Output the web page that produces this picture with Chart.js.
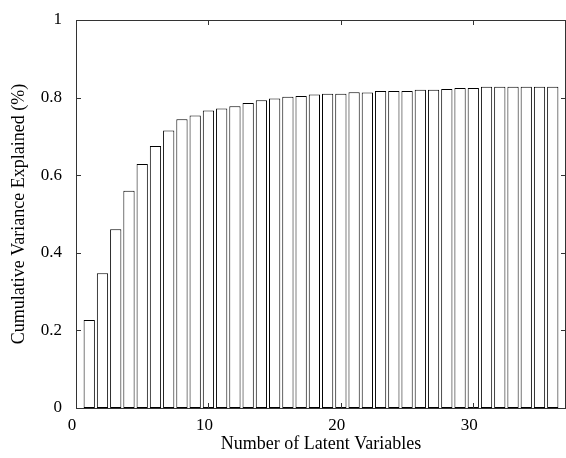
<!DOCTYPE html>
<html>
<head>
<meta charset="utf-8">
<script src="https://cdn.jsdelivr.net/npm/chart.js@4/dist/chart.umd.min.js"></script>
<style>
  html, body { margin: 0; padding: 0; background: #fff; }
  #wrap { width: 566px; height: 458px; }
</style>
</head>
<body>
<div id="wrap"><canvas id="chart"></canvas></div>
<script>
const latentVars = [1, 2, 3, 4, 5, 6, 7, 8, 9, 10, 11, 12, 13, 14, 15, 16, 17, 18,
  19, 20, 21, 22, 23, 24, 25, 26, 27, 28, 29, 30, 31, 32, 33, 34, 35, 36];
const varianceExplained = [0.227, 0.347, 0.461, 0.560, 0.629, 0.675, 0.715, 0.744,
  0.754, 0.767, 0.772, 0.778, 0.786, 0.793, 0.798, 0.802, 0.804, 0.808, 0.810,
  0.810, 0.814, 0.813, 0.817, 0.817, 0.817, 0.820, 0.820, 0.822, 0.825, 0.825,
  0.828, 0.828, 0.828, 0.828, 0.828, 0.828];
const xTicks = [0, 10, 20, 30];
const yTicks = [0, 0.2, 0.4, 0.6, 0.8, 1];

const serif = "'Liberation Serif', 'DejaVu Serif', serif";
const axisColor = "#333";

// MATLAB-style box: top edge plus inward ticks on all four sides
const boxTicks = {
  id: "boxTicks",
  afterDraw(chart) {
    const { ctx, chartArea: a, scales } = chart;
    const len = 5;
    ctx.save();
    ctx.strokeStyle = axisColor;
    ctx.lineWidth = 1;
    ctx.beginPath();
    ctx.moveTo(a.left, a.top + 0.5);
    ctx.lineTo(a.right, a.top + 0.5);
    ctx.moveTo(a.right - 0.5, a.top);
    ctx.lineTo(a.right - 0.5, a.bottom);
    xTicks.forEach((v) => {
      const x = Math.round(scales.x.getPixelForValue(v)) + 0.5;
      ctx.moveTo(x, a.bottom);
      ctx.lineTo(x, a.bottom - len);
      ctx.moveTo(x, a.top);
      ctx.lineTo(x, a.top + len);
    });
    yTicks.forEach((v) => {
      const y = Math.round(scales.y.getPixelForValue(v)) + 0.5;
      ctx.moveTo(a.left, y);
      ctx.lineTo(a.left + len, y);
      ctx.moveTo(a.right, y);
      ctx.lineTo(a.right - len, y);
    });
    ctx.stroke();
    ctx.restore();
  },
};

new Chart(document.getElementById("chart"), {
  type: "bar",
  data: {
    datasets: [
      {
        data: latentVars.map((x, i) => ({ x: x, y: varianceExplained[i] })),
        backgroundColor: "#ffffff",
        borderColor: "#000000",
        borderWidth: 1,
        borderSkipped: false,
        barPercentage: 0.85,
        categoryPercentage: 1,
      },
    ],
  },
  options: {
    responsive: true,
    maintainAspectRatio: false,
    animation: false,
    layout: { padding: { top: 20, right: 0, left: 0, bottom: 0 } },
    plugins: {
      legend: { display: false },
      tooltip: { enabled: false },
    },
    scales: {
      x: {
        type: "linear",
        min: 0,
        max: 37,
        offset: false,
        afterFit: (s) => {
          s.height = 50;
          s.paddingLeft = 0;
          s.paddingRight = 0;
        },
        grid: { display: false, drawTicks: false, offset: false },
        border: { display: true, color: axisColor, width: 1 },
        ticks: {
          stepSize: 10,
          includeBounds: false,
          padding: 7,
          labelOffset: -4,
          maxRotation: 0,
          color: "#000",
          font: { family: serif, size: 17 },
        },
        title: {
          display: true,
          text: "Number of Latent Variables",
          color: "#000",
          font: { family: serif, size: 18 },
          padding: { top: 0, bottom: 3 },
        },
      },
      y: {
        min: 0,
        max: 1,
        afterFit: (s) => {
          s.width = 76;
          s.paddingTop = 0;
          s.paddingBottom = 0;
        },
        grid: { display: false, drawTicks: false },
        border: { display: true, color: axisColor, width: 1 },
        ticks: {
          stepSize: 0.2,
          padding: 14,
          color: "#000",
          font: { family: serif, size: 17 },
          callback: (v) => String(Math.round(v * 10) / 10),
        },
        title: {
          display: true,
          text: "Cumulative Variance Explained (%)",
          color: "#000",
          font: { family: serif, size: 18 },
          padding: { top: 8, bottom: 0 },
        },
      },
    },
  },
  plugins: [boxTicks],
});
</script>
</body>
</html>
